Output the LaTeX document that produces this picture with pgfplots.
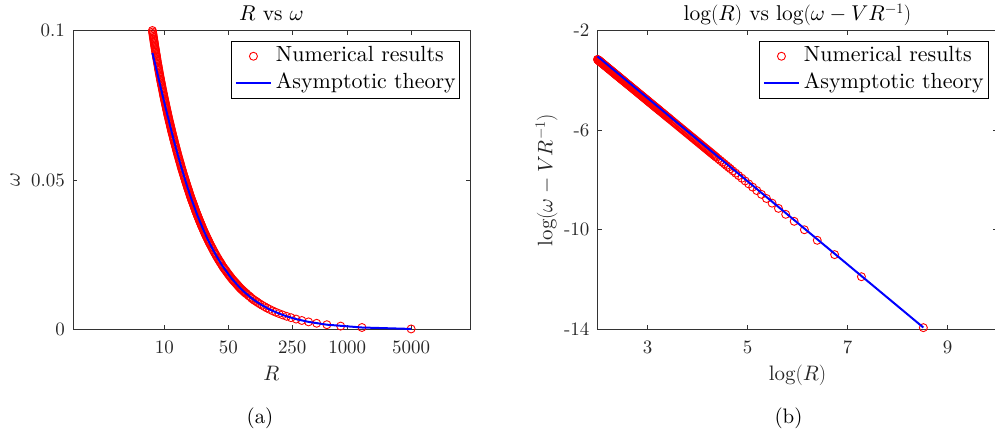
\documentclass[border=0pt]{standalone}
\usepackage{fontspec}
\setmainfont{lmroman10-regular}[Extension=.otf, ItalicFont=lmroman10-italic, BoldFont=lmroman10-bold]
\DeclareFontShape{OML}{cmm}{m}{it}{<->cmmi10}{\skewchar\font'177}
\DeclareFontShape{OMS}{cmsy}{m}{n}{<->cmsy10}{\skewchar\font'60}
\usepackage{pgfplots}
\usepackage{pgfplotstable}
\pgfplotsset{compat=1.18}

% numerical results: R, omega, log(R), log(omega - V/R)
\pgfplotstableread{
R w lnR ly
7.39 0.1000 2.0000 -3.160
7.43 0.0995 2.0055 -3.169
7.47 0.0990 2.0109 -3.178
7.51 0.09855 2.0162 -3.187
7.55 0.0981 2.0215 -3.196
7.59 0.09765 2.0268 -3.2045
7.63 0.0972 2.0321 -3.213
7.665 0.0968 2.0367 -3.2205
7.70 0.0964 2.0412 -3.228
7.735 0.0960 2.0457 -3.2355
7.77 0.0956 2.0502 -3.243
7.81 0.09515 2.0554 -3.2515
7.85 0.0947 2.0605 -3.260
7.89 0.0943 2.0656 -3.2685
7.93 0.0939 2.0706 -3.277
7.965 0.09355 2.0750 -3.284
8.00 0.0932 2.0794 -3.291
8.0425 0.09278 2.0847 -3.2998
8.085 0.09235 2.0899 -3.3085
8.1275 0.09193 2.0952 -3.3173
8.17 0.0915 2.1004 -3.326
8.215 0.09105 2.1059 -3.335
8.26 0.0906 2.1114 -3.344
8.305 0.09015 2.1168 -3.353
8.35 0.0897 2.1223 -3.362
8.4067 0.0892 2.1290 -3.373
8.4633 0.0887 2.1357 -3.384
8.52 0.0882 2.1424 -3.395
8.565 0.0878 2.1476 -3.4038
8.61 0.0874 2.1529 -3.4125
8.655 0.0870 2.1581 -3.4213
8.70 0.0866 2.1633 -3.430
8.7567 0.08613 2.1698 -3.4407
8.8133 0.08567 2.1762 -3.4513
8.87 0.0852 2.1827 -3.462
8.93 0.08473 2.1894 -3.473
8.99 0.08427 2.1961 -3.484
9.05 0.0838 2.2028 -3.495
9.1067 0.08337 2.2090 -3.5053
9.1633 0.08293 2.2152 -3.5157
9.22 0.0825 2.2214 -3.526
9.28 0.08207 2.2278 -3.5367
9.34 0.08163 2.2343 -3.5473
9.40 0.0812 2.2407 -3.558
9.4667 0.08073 2.2477 -3.5693
9.5333 0.08027 2.2548 -3.5807
9.60 0.0798 2.2618 -3.592
9.6667 0.07933 2.2687 -3.6033
9.7333 0.07887 2.2755 -3.6147
9.80 0.0784 2.2824 -3.626
9.8667 0.07797 2.2891 -3.6373
9.9333 0.07753 2.2959 -3.6487
10.0 0.0771 2.3026 -3.660
10.0667 0.0767 2.3092 -3.671
10.1333 0.0763 2.3158 -3.682
10.2 0.0759 2.3224 -3.693
10.2667 0.0755 2.3289 -3.7037
10.3333 0.0751 2.3353 -3.7143
10.4 0.0747 2.3418 -3.725
10.4667 0.0743 2.3482 -3.7353
10.5333 0.0739 2.3545 -3.7457
10.6 0.0735 2.3609 -3.756
10.6667 0.07313 2.3671 -3.7663
10.7333 0.07277 2.3733 -3.7767
10.8 0.0724 2.3795 -3.787
10.8667 0.07203 2.3856 -3.797
10.9333 0.07167 2.3918 -3.807
11.0 0.0713 2.3979 -3.817
11.0833 0.07087 2.4054 -3.8293
11.1667 0.07043 2.4129 -3.8417
11.25 0.0700 2.4204 -3.854
11.3333 0.0696 2.4277 -3.8663
11.4167 0.0692 2.4350 -3.8787
11.5 0.0688 2.4423 -3.891
11.5833 0.0684 2.4495 -3.9027
11.6667 0.0680 2.4567 -3.9143
11.75 0.0676 2.4639 -3.926
11.8333 0.0672 2.4709 -3.9377
11.9167 0.0668 2.4779 -3.9493
12.0 0.0664 2.4849 -3.961
12.0833 0.06603 2.4918 -3.9723
12.1667 0.06567 2.4986 -3.9837
12.25 0.0653 2.5055 -3.995
12.375 0.0648 2.5156 -4.0115
12.5 0.0643 2.5257 -4.028
12.5833 0.06393 2.5323 -4.039
12.6667 0.06357 2.5389 -4.050
12.75 0.0632 2.5455 -4.061
12.875 0.0627 2.5552 -4.077
13.0 0.0622 2.5649 -4.093
13.125 0.06175 2.5745 -4.109
13.25 0.0613 2.5840 -4.125
13.375 0.0608 2.5934 -4.1405
13.5 0.0603 2.6027 -4.156
13.625 0.05985 2.6119 -4.171
13.75 0.0594 2.6210 -4.186
13.875 0.05895 2.6301 -4.201
14.0 0.0585 2.6391 -4.216
14.15 0.0580 2.6497 -4.2335
14.3 0.0575 2.6603 -4.251
14.45 0.0570 2.6707 -4.268
14.6 0.0565 2.6810 -4.285
14.75 0.05605 2.6912 -4.302
14.9 0.0556 2.7014 -4.319
15.05 0.0551 2.7114 -4.3355
15.2 0.0546 2.7213 -4.352
15.35 0.05415 2.7311 -4.368
15.5 0.0537 2.7408 -4.384
15.65 0.0533 2.7504 -4.400
15.8 0.0529 2.7600 -4.416
15.975 0.0524 2.7710 -4.434
16.15 0.0519 2.7819 -4.452
16.325 0.05145 2.7927 -4.4695
16.5 0.0510 2.8034 -4.487
16.675 0.05055 2.8139 -4.5045
16.85 0.0501 2.8243 -4.522
17.025 0.04965 2.8346 -4.539
17.2 0.0492 2.8449 -4.556
17.375 0.0488 2.8550 -4.5725
17.55 0.0484 2.8650 -4.589
17.725 0.04795 2.8749 -4.6055
17.9 0.0475 2.8848 -4.622
18.075 0.04715 2.8945 -4.638
18.25 0.0468 2.9042 -4.654
18.425 0.0464 2.9137 -4.6695
18.6 0.0460 2.9232 -4.685
18.8 0.04555 2.9338 -4.7025
19.0 0.0451 2.9444 -4.720
19.2 0.0447 2.9549 -4.7375
19.4 0.0443 2.9653 -4.755
19.6 0.0439 2.9755 -4.7715
19.8 0.0435 2.9857 -4.788
20.0 0.04315 2.9957 -4.8045
20.2 0.0428 3.0057 -4.821
20.4 0.04245 3.0155 -4.8375
20.6 0.0421 3.0253 -4.854
20.8 0.04175 3.0349 -4.870
21.0 0.0414 3.0445 -4.886
21.225 0.0410 3.0551 -4.9035
21.45 0.0406 3.0657 -4.921
21.675 0.0402 3.0761 -4.938
21.9 0.0398 3.0865 -4.955
22.125 0.03945 3.0967 -4.9715
22.35 0.0391 3.1068 -4.988
22.575 0.03875 3.1168 -5.005
22.8 0.0384 3.1268 -5.022
23.025 0.0381 3.1366 -5.038
23.25 0.0378 3.1463 -5.054
23.475 0.03745 3.1559 -5.0695
23.7 0.0371 3.1655 -5.085
23.95 0.03675 3.1760 -5.1025
24.2 0.0364 3.1864 -5.120
24.45 0.0361 3.1966 -5.137
24.7 0.0358 3.2068 -5.154
24.95 0.03545 3.2169 -5.1705
25.2 0.0351 3.2269 -5.187
25.45 0.0348 3.2367 -5.203
25.7 0.0345 3.2465 -5.219
26.0667 0.03407 3.2605 -5.242
26.4333 0.03363 3.2744 -5.265
26.8 0.0332 3.2884 -5.288
27.1667 0.0328 3.3018 -5.3103
27.5333 0.0324 3.3152 -5.3327
27.9 0.0320 3.3286 -5.355
28.2667 0.03163 3.3415 -5.3763
28.6333 0.03127 3.3544 -5.3977
29.0 0.0309 3.3673 -5.419
29.4 0.03053 3.3808 -5.4413
29.8 0.03017 3.3943 -5.4637
30.2 0.0298 3.4078 -5.486
30.6 0.02943 3.4208 -5.5073
31.0 0.02907 3.4338 -5.5287
31.4 0.0287 3.4468 -5.550
32.05 0.0282 3.4671 -5.5835
32.7 0.0277 3.4874 -5.617
33.35 0.0272 3.5069 -5.6495
34.0 0.0267 3.5264 -5.682
34.7 0.0262 3.5466 -5.715
35.4 0.0257 3.5667 -5.748
36.15 0.0252 3.5875 -5.7825
36.9 0.0247 3.6082 -5.817
37.65 0.02425 3.6282 -5.850
38.4 0.0238 3.6481 -5.883
39.2 0.02335 3.6685 -5.9165
40.0 0.0229 3.6889 -5.950
40.8 0.0225 3.7085 -5.9825
41.6 0.0221 3.7281 -6.015
42.45 0.02165 3.7482 -6.048
43.3 0.0212 3.7682 -6.081
44.2 0.0208 3.7886 -6.1145
45.1 0.0204 3.8089 -6.148
46.05 0.02005 3.8295 -6.182
47.0 0.0197 3.8501 -6.216
48.0 0.0193 3.8710 -6.2505
49.0 0.0189 3.8918 -6.285
50.0 0.01855 3.9118 -6.318
51.0 0.0182 3.9318 -6.351
52.05 0.01785 3.9520 -6.3845
53.1 0.0175 3.9722 -6.418
54.2 0.01715 3.9925 -6.4515
55.3 0.0168 4.0128 -6.485
56.45 0.0165 4.0332 -6.5185
57.6 0.0162 4.0535 -6.552
58.8 0.0159 4.0739 -6.586
60.0 0.0156 4.0943 -6.620
61.25 0.0153 4.1148 -6.6535
62.5 0.0150 4.1352 -6.687
63.75 0.0147 4.1548 -6.7195
65.0 0.0144 4.1744 -6.752
66.35 0.0141 4.1948 -6.7855
67.7 0.0138 4.2151 -6.819
69.1 0.01355 4.2354 -6.8525
70.5 0.0133 4.2556 -6.886
71.95 0.01305 4.2758 -6.9195
73.4 0.0128 4.2959 -6.953
74.9 0.01255 4.3160 -6.986
76.4 0.0123 4.3360 -7.019
77.95 0.0121 4.3559 -7.052
79.5 0.0119 4.3758 -7.085
82.8 0.0114 4.4164 -7.152
86.2 0.0110 4.4567 -7.218
89.7 0.0105 4.4965 -7.284
93.4 0.0101 4.5369 -7.351
97.2 0.0097 4.5768 -7.417
101.2 0.0094 4.6171 -7.483
105.2 0.0090 4.6559 -7.548
110.9 0.00856 4.7086 -7.635
117.2 0.00811 4.7639 -7.726
124.4 0.00765 4.8235 -7.824
132.5 0.00719 4.8866 -7.929
141.6 0.00674 4.9530 -8.038
152.2 0.00627 5.0252 -8.158
164.5 0.00581 5.1029 -8.286
178.9 0.00535 5.1868 -8.425
196.1 0.00489 5.2786 -8.576
216.9 0.00442 5.3794 -8.743
242.7 0.00396 5.4919 -8.929
275.5 0.00349 5.6186 -9.138
318.5 0.00302 5.7637 -9.378
377.4 0.00255 5.9333 -9.658
463.0 0.00208 6.1377 -9.996
598.8 0.00161 6.3949 -10.420
847.5 0.00114 6.7423 -10.994
1449.3 0.00067 7.2788 -11.881
5000 0.00019 8.5172 -13.926
}\numdata

% asymptotic theory, omega against R
\pgfplotstableread{
R w
7.39 0.0925
7.7 0.0903
8.0 0.0882
8.35 0.0858
8.7 0.0835
9.05 0.0813
9.4 0.0792
9.8 0.0769
10.2 0.0747
10.6 0.0726
11.0 0.0707
11.5 0.0683
12.0 0.0661
13.0 0.0620
14.0 0.0584
15.2 0.0546
16.5 0.0510
17.9 0.0475
19.4 0.0443
21.0 0.0414
22.8 0.0384
24.7 0.0358
26.8 0.0332
29.0 0.0309
31.4 0.0287
34.0 0.0267
36.9 0.0247
40.0 0.0229
43.3 0.0212
47.0 0.0197
51.0 0.0182
55.3 0.0168
60.0 0.0156
65.0 0.0144
70.5 0.0133
76.4 0.0123
82.8 0.0114
89.7 0.0105
97.2 0.0097
105.2 0.0090
117.2 0.00811
132.5 0.00719
152.2 0.00627
178.9 0.00535
216.9 0.00442
275.5 0.00349
377.4 0.00255
598.8 0.00161
1449.3 0.00067
5000 0.00019
}\asymdata

\pgfplotsset{
  mlab/.style={
    scale only axis, clip=false, clip marker paths=true, height=299bp,
    axis line style={draw=black!80, line width=0.7bp},
    tick style={draw=black!80, line width=0.7bp},
    major tick length=4.5bp, tick align=inside,
    ticklabel style={font=\fontsize{19}{19}\selectfont, text=black!85, inner sep=0pt},
    xticklabel style={anchor=base, yshift=-23.5bp},
    yticklabel style={anchor=east, xshift=-8bp},
    label style={font=\fontsize{21}{21}\selectfont, text=black!85, inner sep=0pt},
    xlabel style={at={(axis description cs:0.5,-0.1689)}, anchor=base},
    every axis title shift=0pt,
    title style={at={(axis description cs:0.5,1.0318)}, anchor=base,
      inner sep=0pt, font=\fontsize{21.5}{21.5}\selectfont},
    legend cell align=left,
    legend style={at={(axis description cs:1,1)}, anchor=north east,
      yshift=-10.5bp, draw=black, line width=0.5bp, fill=white,
      inner xsep=4bp, inner ysep=5bp, row sep=7bp, column sep=0pt,
      font=\fontsize{22}{22}\selectfont,
      nodes={inner sep=0pt, text height=15bp, text depth=5bp}},
  },
  numstyle/.style={only marks, mark=o, color=red, mark size=4bp,
    mark options={line width=0.9bp},
    legend image code/.code={
      \draw[red, line width=0.9bp] (17.5bp,0bp) circle (4bp);
      \path[draw=none, fill=none] (0bp,-1bp) rectangle (40bp,1bp);}},
  asystyle/.style={blue, line width=2bp, no marks,
    legend image code/.code={
      \draw[blue, line width=2bp] (0bp,0bp) -- (35bp,0bp);
      \path[draw=none, fill=none] (0bp,-1bp) rectangle (40bp,1bp);}},
}

\begin{document}
\begin{tikzpicture}
\path[use as bounding box] (0bp,0bp) rectangle (995bp,-437bp);

\begin{axis}[mlab,
  at={(73bp,-329.5bp)}, anchor=south west, width=397bp,
  xmode=log, xmin=1, xmax=22026.47, ymin=0, ymax=0.1,
  xtick={10,50,250,1000,5000}, xticklabels={10,50,250,1000,5000},
  ytick={0,0.05,0.1}, yticklabels={0,0.05,0.1},
  title={$R$ vs $\omega$},
  xlabel={$R$}, ylabel={$\omega$},
  ylabel style={at={(axis description cs:-0.1461,0.5)}, anchor=center},
  legend style={xshift=-10bp}]
\addplot[numstyle] table[x=R, y=w] {\numdata};
\addlegendentry{Numerical results}
\addplot[asystyle] table[x=R, y=w] {\asymdata};
\addlegendentry{Asymptotic theory}
\end{axis}

\begin{axis}[mlab,
  at={(597.5bp,-329.5bp)}, anchor=south west, width=400bp,
  xmin=2, xmax=10, ymin=-14, ymax=-2,
  xtick={3,5,7,9}, xticklabels={3,5,7,9},
  ytick={-14,-10,-6,-2}, yticklabels={-14,-10,-6,-2},
  title={$\log(R)$ vs $\log(\omega - VR^{-1})$},
  xlabel={$\log(R)$}, ylabel={$\log(\omega - VR^{-1})$},
  ylabel style={at={(axis description cs:-0.1275,0.5)}, anchor=center},
  legend style={xshift=-9.5bp}]
\addplot[numstyle] table[x=lnR, y=ly] {\numdata};
\addlegendentry{Numerical results}
\addplot[asystyle] coordinates {(2.0,-3.04) (8.5172,-13.92)};
\addlegendentry{Asymptotic theory}
\end{axis}

\node[anchor=base, inner sep=0pt, font=\fontsize{21}{21}\selectfont] at (260bp,-423bp) {(a)};
\node[anchor=base, inner sep=0pt, font=\fontsize{21}{21}\selectfont] at (788.5bp,-423bp) {(b)};
\end{tikzpicture}
\end{document}
